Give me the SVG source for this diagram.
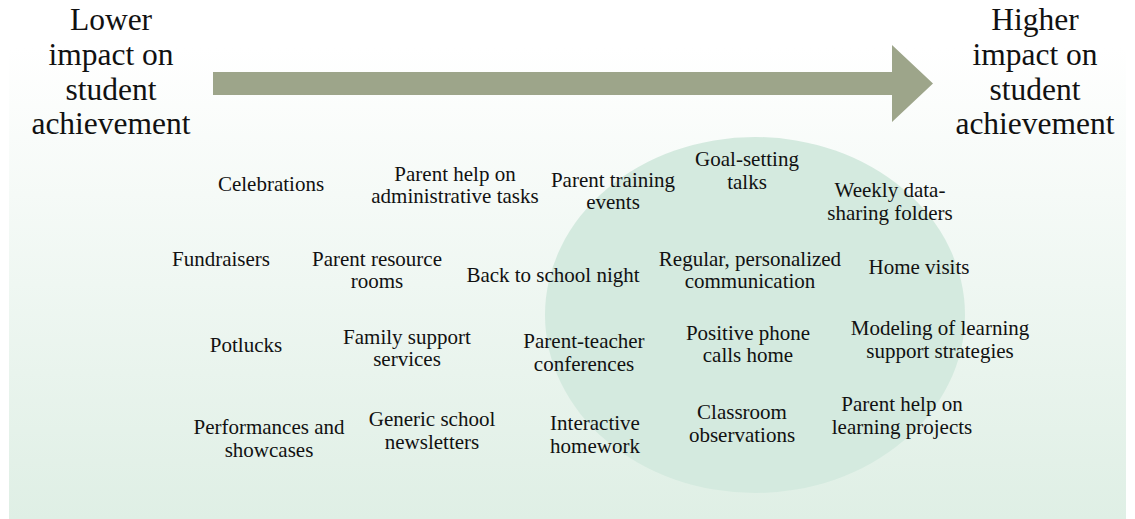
<svg xmlns="http://www.w3.org/2000/svg" width="1135" height="519" viewBox="0 0 1135 519">
<defs>
<linearGradient id="bg" x1="0" y1="0" x2="0" y2="1">
<stop offset="0" stop-color="#ffffff"/>
<stop offset="1" stop-color="#dfefe5"/>
</linearGradient>
</defs>
<rect x="9" y="48" width="1117" height="471" fill="url(#bg)"/>
<ellipse cx="755" cy="315" rx="210" ry="178" fill="#d4eadf"/>
<g id="arrow"><polygon points="213,72 892,72 892,45 933,83.5 892,122 892,95 213,95" fill="#9da58a"/></g>
<g font-size="31.5" fill="#111" text-anchor="middle">
<g id="lower"><text font-family="Liberation Serif" x="111" y="30">Lower</text><text font-family="Liberation Serif" x="111" y="65">impact on</text><text font-family="Liberation Serif" x="111" y="100">student</text><text font-family="Liberation Serif" x="111" y="134">achievement</text></g>
<g id="higher"><text font-family="Liberation Serif" x="1035" y="30">Higher</text><text font-family="Liberation Serif" x="1035" y="65">impact on</text><text font-family="Liberation Serif" x="1035" y="100">student</text><text font-family="Liberation Serif" x="1035" y="134">achievement</text></g>
</g>
<g font-size="21" fill="#111" text-anchor="middle">
<g id="n1"><text font-family="Liberation Serif" x="271" y="191">Celebrations</text></g>
<g id="n2"><text font-family="Liberation Serif" x="455" y="181">Parent help on</text><text font-family="Liberation Serif" x="455" y="203">administrative tasks</text></g>
<g id="n3"><text font-family="Liberation Serif" x="613" y="187">Parent training</text><text font-family="Liberation Serif" x="613" y="209">events</text></g>
<g id="n4"><text font-family="Liberation Serif" x="747" y="166">Goal-setting</text><text font-family="Liberation Serif" x="747" y="189">talks</text></g>
<g id="n5"><text font-family="Liberation Serif" x="890" y="197">Weekly data-</text><text font-family="Liberation Serif" x="890" y="220">sharing folders</text></g>
<g id="n6"><text font-family="Liberation Serif" x="221" y="266">Fundraisers</text></g>
<g id="n7"><text font-family="Liberation Serif" x="377" y="266">Parent resource</text><text font-family="Liberation Serif" x="377" y="288">rooms</text></g>
<g id="n8"><text font-family="Liberation Serif" x="553" y="282">Back to school night</text></g>
<g id="n9"><text font-family="Liberation Serif" x="750" y="266">Regular, personalized</text><text font-family="Liberation Serif" x="750" y="288">communication</text></g>
<g id="n10"><text font-family="Liberation Serif" x="919" y="274">Home visits</text></g>
<g id="n11"><text font-family="Liberation Serif" x="246" y="352">Potlucks</text></g>
<g id="n12"><text font-family="Liberation Serif" x="407" y="344">Family support</text><text font-family="Liberation Serif" x="407" y="366">services</text></g>
<g id="n13"><text font-family="Liberation Serif" x="584" y="348">Parent-teacher</text><text font-family="Liberation Serif" x="584" y="371">conferences</text></g>
<g id="n14"><text font-family="Liberation Serif" x="748" y="340">Positive phone</text><text font-family="Liberation Serif" x="748" y="362">calls home</text></g>
<g id="n15"><text font-family="Liberation Serif" x="940" y="335">Modeling of learning</text><text font-family="Liberation Serif" x="940" y="358">support strategies</text></g>
<g id="n16"><text font-family="Liberation Serif" x="269" y="434">Performances and</text><text font-family="Liberation Serif" x="269" y="457">showcases</text></g>
<g id="n17"><text font-family="Liberation Serif" x="432" y="426">Generic school</text><text font-family="Liberation Serif" x="432" y="449">newsletters</text></g>
<g id="n18"><text font-family="Liberation Serif" x="595" y="430">Interactive</text><text font-family="Liberation Serif" x="595" y="453">homework</text></g>
<g id="n19"><text font-family="Liberation Serif" x="742" y="419">Classroom</text><text font-family="Liberation Serif" x="742" y="442">observations</text></g>
<g id="n20"><text font-family="Liberation Serif" x="902" y="411">Parent help on</text><text font-family="Liberation Serif" x="902" y="434">learning projects</text></g>
</g>
</svg>
